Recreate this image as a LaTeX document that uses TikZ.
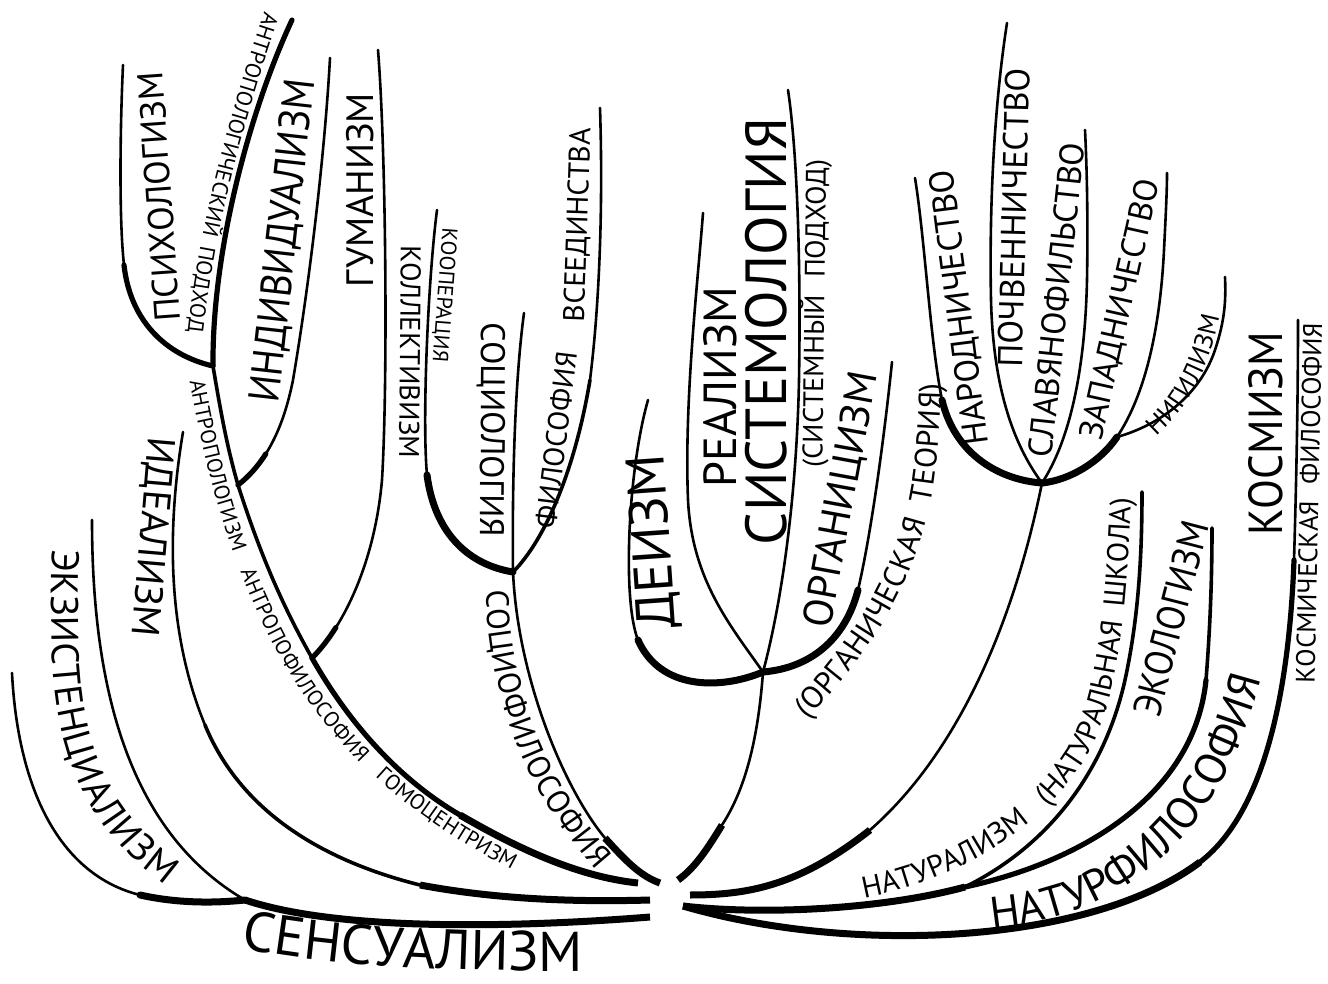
\documentclass[tikz,border=0pt]{standalone}
\usepackage{fontspec}
\setmainfont{PT Sans}
\usepackage{graphicx}
\usetikzlibrary{decorations.text}
\newcommand\rlab[6]{\node[lbl,rotate=#4] (#1) at (#2,#3) {\resizebox{#5pt}{!}{#6}};}
\newcommand\rlabh[7]{\node[lbl,rotate=#4] (#1) at (#2,#3) {\resizebox{#5pt}{#6pt}{#7}};}
\begin{document}
\begin{tikzpicture}[x=1pt,y=-1pt,
  br1/.style={line width=2.6pt,line cap=round},
  br2/.style={line width=3.6pt,line cap=round},
  br3/.style={line width=5.2pt,line cap=round},
  br4/.style={line width=7pt,line cap=round},
  endcut/.style={line cap=butt},
  lbl/.style={inner sep=0pt,outer sep=0pt}]
\fill[white] (0,0) rectangle (1328,984);
\useasboundingbox (0,0) rectangle (1328,984);
% ---------- coordinates ----------
\coordinate (jPsy) at (213,366);
\coordinate (jInd) at (238,485);
\coordinate (jGum) at (312,658);
\coordinate (eA) at (638,883);
\coordinate (tA) at (292,20);
\coordinate (tPsy) at (123,65);
\coordinate (tInd) at (330,58);
\coordinate (tGum) at (378,50);
\coordinate (jSoc) at (513,572);
\coordinate (eSoc) at (660,883);
\coordinate (tKol) at (437,210);
\coordinate (tSoc) at (524,313);
\coordinate (tVse) at (600,108);
\coordinate (tId) at (183,432);
\coordinate (eId) at (650,900);
\coordinate (tSi) at (92,520);
\coordinate (tSo) at (12,673);
\coordinate (jSen) at (245,900);
\coordinate (eSen) at (650,917);
\coordinate (jMid) at (763,672);
\coordinate (eMid) at (678,880);
\coordinate (tDei) at (648,400);
\coordinate (tRea) at (703,213);
\coordinate (tSys) at (788,90);
\coordinate (tOrg) at (892,362);
\coordinate (jSla) at (1042,483);
\coordinate (eSla) at (690,895);
\coordinate (tNar) at (915,178);
\coordinate (tPoc) at (1007,23);
\coordinate (tSlv) at (1085,130);
\coordinate (jZap) at (1117,437);
\coordinate (tZap) at (1167,173);
\coordinate (tNig) at (1225,277);
\coordinate (eNat) at (683,906);
\coordinate (jNat) at (965,887);
\coordinate (tNat) at (1142,492);
\coordinate (tEko) at (1212,528);
\coordinate (tKos) at (1298,320);
% ---------- left group ----------
\draw[br3] (tA) .. controls (250,110) and (212,250) .. (jPsy);
\draw[br2] (jPsy) .. controls (222,420) and (228,450) .. (jInd);
\draw[br2] (jInd) .. controls (262,560) and (285,610) .. (jGum);
\draw[br3] (jGum) .. controls (350,725) and (400,780) .. (460,815);
\draw[br4,endcut] (460,815) .. controls (520,850) and (580,877) .. (eA);
\draw[br3] (jPsy) .. controls (165,355) and (130,320) .. (124,265);
\draw[br1] (124,265) .. controls (119,220) and (120,130) .. (tPsy);
\draw[br3] (jInd) .. controls (249.2,476.25) and (258.32,465.66) .. (265.78,453.88);
\draw[br1] (265.78,453.88) .. controls (279.64,432) and (287.8,406) .. (293,380) .. controls (310,280) and (325,150) .. (tInd);
\draw[br3] (jGum) .. controls (320.25,649.75) and (328.31,639.5) .. (335.87,627.5);
\draw[br1] (335.87,627.5) .. controls (358.56,591.56) and (376.75,540) .. (382,480) .. controls (388,380) and (386,150) .. (tGum);
\draw[br1] (jSoc) .. controls (518,680) and (565,790) .. (605,838);
\draw[br4,endcut] (605,838) .. controls (625,860) and (640,876) .. (eSoc);
\draw[br4] (jSoc) .. controls (470,565) and (435,535) .. (427,475);
\draw[br1] (427,475) .. controls (422,420) and (428,280) .. (tKol);
\draw[br1] (jSoc) .. controls (512,480) and (515,380) .. (tSoc);
\draw[br2] (jSoc) .. controls (545,540) and (575,470) .. (590,380);
\draw[br1] (590,380) .. controls (600,300) and (603,200) .. (tVse);
\draw[br1] (tId) .. controls (165,540) and (170,640) .. (205,725);
\draw[br2] (205,725) .. controls (240,810) and (320,860) .. (420,885);
\draw[br4,endcut] (420,885) .. controls (500,900) and (580,902) .. (eId);
\draw[br1] (tSi) .. controls (92,680) and (125,830) .. (jSen);
\draw[br1] (tSo) .. controls (18,790) and (60,875) .. (140,895);
\draw[br4] (140,895) .. controls (185,905) and (225,902) .. (jSen);
\draw[br4,endcut] (jSen) .. controls (350,935) and (550,925) .. (eSen);
% ---------- middle group ----------
\draw[br1] (jMid) .. controls (758,740) and (745,790) .. (722,825);
\draw[br4,endcut] (722,825) .. controls (708,848) and (695,868) .. (eMid);
\draw[br4] (jMid) .. controls (720,690) and (660,690) .. (638,640);
\draw[br1] (638,640) .. controls (622,600) and (628,470) .. (tDei);
\draw[br1] (jMid) .. controls (730,625) and (692,580) .. (688,500) .. controls (684,400) and (698,280) .. (tRea);
\draw[br1] (jMid) .. controls (785,590) and (797,480) .. (799,380) .. controls (801,260) and (797,150) .. (tSys);
\draw[br4] (jMid) .. controls (810,668) and (845,640) .. (858,590);
\draw[br1] (858,590) .. controls (872,530) and (885,430) .. (tOrg);
% ---------- slavic group ----------
\draw[br1] (jSla) .. controls (1010,640) and (950,760) .. (870,830);
\draw[br4,endcut] (870,830) .. controls (800,885) and (750,895) .. (eSla);
\draw[br4] (jSla) .. controls (1000,480) and (955,455) .. (942,400);
\draw[br1] (942,400) .. controls (930,340) and (925,240) .. (tNar);
\draw[br1] (jSla) .. controls (1010,440) and (993,380) .. (991,300) .. controls (989,200) and (995,100) .. (tPoc);
\draw[br1] (jSla) .. controls (1070,440) and (1085,370) .. (1087,280) .. controls (1088,220) and (1087,170) .. (tSlv);
\draw[br4] (jSla) .. controls (1070,480) and (1100,462) .. (jZap);
\draw[br1] (jZap) .. controls (1145,395) and (1160,330) .. (1164,250) .. controls (1166,210) and (1167,190) .. (tZap);
\draw[br1] (jZap) .. controls (1160,425) and (1200,395) .. (1215,350) .. controls (1225,320) and (1226,300) .. (tNig);
% ---------- nature group ----------
\draw[br4,endcut] (eNat) .. controls (760,915) and (880,910) .. (jNat);
\draw[br2] (jNat) .. controls (1050,845) and (1105,770) .. (1125,680) .. controls (1138,620) and (1142,560) .. (tNat);
\draw[br3] (jNat) .. controls (1090,860) and (1195,790) .. (1206,680);
\draw[br2] (1206,680) .. controls (1210,630) and (1212,580) .. (tEko);
\draw[br4,endcut] (eNat) .. controls (850,955) and (1090,945) .. (1200,862);
\draw[br3] (1200,862) .. controls (1255,820) and (1288,720) .. (1294,560);
\draw[br1] (1294,560) .. controls (1297,460) and (1298,380) .. (tKos);
% ---------- rotated labels ----------
\rlab{psy}{159}{197}{94.1}{250}{ПСИХОЛОГИЗМ}
\rlabh{ind}{284}{241}{83.6}{324}{31}{ИНДИВИДУАЛИЗМ}
\rlab{gum}{360}{190}{90}{194}{ГУМАНИЗМ}
\rlab{ide}{151.5}{537}{-94.9}{200}{ИДЕАЛИЗМ}
\rlab{soc}{491}{430}{-90.5}{214}{СОЦИОЛОГИЯ}
\rlab{kol}{410}{352}{-90.5}{213}{КОЛЛЕКТИВИЗМ}
\rlab{koo}{444}{295}{-94.3}{134}{КООПЕРАЦИЯ}
\rlab{fil}{556}{440}{82.9}{177}{ФИЛОСОФИЯ}
\rlab{vse}{578.5}{225}{88}{194}{ВСЕЕДИНСТВА}
\rlab{dei}{654}{541.5}{94}{175}{ДЕИЗМ}
\rlab{rea}{720}{387}{90}{200}{РЕАЛИЗМ}
\rlab{sys}{766}{331.5}{90}{427}{СИСТЕМОЛОГИЯ}
\rlab{sysp}{815}{313.5}{89.3}{307}{(СИСТЕМНЫЙ\hspace{0.6em}ПОДХОД)}
\rlab{org}{842}{500}{79.6}{259}{ОРГАНИЦИЗМ}
\rlab{nar}{960.5}{307.5}{97.3}{277}{НАРОДНИЧЕСТВО}
\rlab{poc}{1014}{217.5}{88.5}{299}{ПОЧВЕННИЧЕСТВО}
\rlab{slv}{1056.5}{300}{84}{316}{СЛАВЯНОФИЛЬСТВО}
\rlab{zap}{1121}{310}{77.4}{266}{ЗАПАДНИЧЕСТВО}
\rlabh{kos}{1266}{433.5}{90}{203}{34}{КОСМИЗМ}
\rlab{kosf}{1309}{503}{88.8}{360}{КОСМИЧЕСКАЯ\hspace{0.6em}ФИЛОСОФИЯ}
\rlabh{eko}{1171}{618.5}{75.5}{200}{28}{ЭКОЛОГИЗМ}
% ---------- curved labels ----------
\path[decorate,decoration={text along path,text align=left,raise=0pt,
  text={|\fontsize{56}{56}\selectfont|СЕНСУАЛИЗМ}}]
  (241,948) .. controls (330,966) and (460,974) .. (640,970);
\path[decorate,decoration={text along path,text align=left,raise=-13.5pt,
  text={|\fontsize{38.5}{38.5}\selectfont|ЭКЗИСТЕНЦИАЛИЗМ}}]
  (66,550) .. controls (60,720) and (70,820) .. (215,900);
\path[decorate,decoration={text along path,text align=left,raise=-11pt,
  text={|\fontsize{32}{32}\selectfont|СОЦИОФИЛОСОФИЯ}}]
  (497,590) .. controls (500,700) and (540,800) .. (625,885);
\path[decorate,decoration={text along path,text align=left,raise=-8pt,
  text={|\fontsize{22}{22}\selectfont|АНТРОПОЛОГИЧЕСКИЙ{\kern10pt}ПОДХОД}}]
  (272,14) .. controls (240,110) and (203,230) .. (192,370);
\path[decorate,decoration={text along path,text align=left,raise=-7.5pt,
  text={|\fontsize{21.5}{21.5}\selectfont|АНТРОПОЛОГИЗМ{\kern20pt}АНТРОПОФИЛОСОФИЯ{\kern20pt}ГОМОЦЕНТРИЗМ}}]
  (197,380) .. controls (215,480) and (240,570) .. (290,660) .. controls (350,760) and (430,825) .. (560,885);
\path[decorate,decoration={text along path,text align=left,raise=-10.5pt,
  text={|\fontsize{31}{31}\selectfont|(ОРГАНИЧЕСКАЯ{\kern16pt}ТЕОРИЯ)}}]
  (800,712) .. controls (870,640) and (915,560) .. (925,470) .. controls (930,420) and (931,390) .. (930,330);
\path[decorate,decoration={text along path,text align=left,raise=-9pt,
  text={|\fontsize{26}{26}\selectfont|НИГИЛИЗМ}}]
  (1150,430) .. controls (1185,400) and (1207,355) .. (1216,280);
\path[decorate,decoration={text along path,text align=left,raise=0pt,
  text={|\fontsize{30}{30}\selectfont|НАТУРАЛИЗМ{\kern24pt}(НАТУРАЛЬНАЯ{\kern14pt}ШКОЛА)}}]
  (864,898) .. controls (960,880) and (1040,830) .. (1085,760) .. controls (1115,712) and (1130,620) .. (1133,420);
\path[decorate,decoration={text along path,text align=left,raise=0pt,
  text={|\fontsize{44}{44}\selectfont|НАТУРФИЛОСОФИЯ}}]
  (992,928) .. controls (1130,915) and (1235,835) .. (1272,630);
\end{tikzpicture}
\end{document}
